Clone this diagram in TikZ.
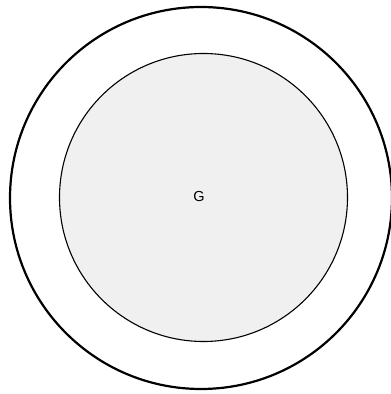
\documentclass[tikz,border=0pt]{standalone}
\usepackage{fontspec}
\setmainfont{Liberation Sans}
\begin{document}
\begin{tikzpicture}[x=1pt,y=1pt,
  outerring/.style={circle,draw=black,line width=2.2pt,minimum size=382pt,inner sep=0pt},
  innerdisc/.style={circle,draw=black,line width=1.1pt,fill={rgb,255:red,240;green,240;blue,240},minimum size=288pt,inner sep=0pt}]
\useasboundingbox (0,0) rectangle (391,394);
\node[outerring] (outer) at (201,196) {};
\node[innerdisc] (inner) at (203.5,196.5) {};
\node[font=\fontsize{14.5}{17}\selectfont] (g) at (199,197) {G};
\end{tikzpicture}
\end{document}
